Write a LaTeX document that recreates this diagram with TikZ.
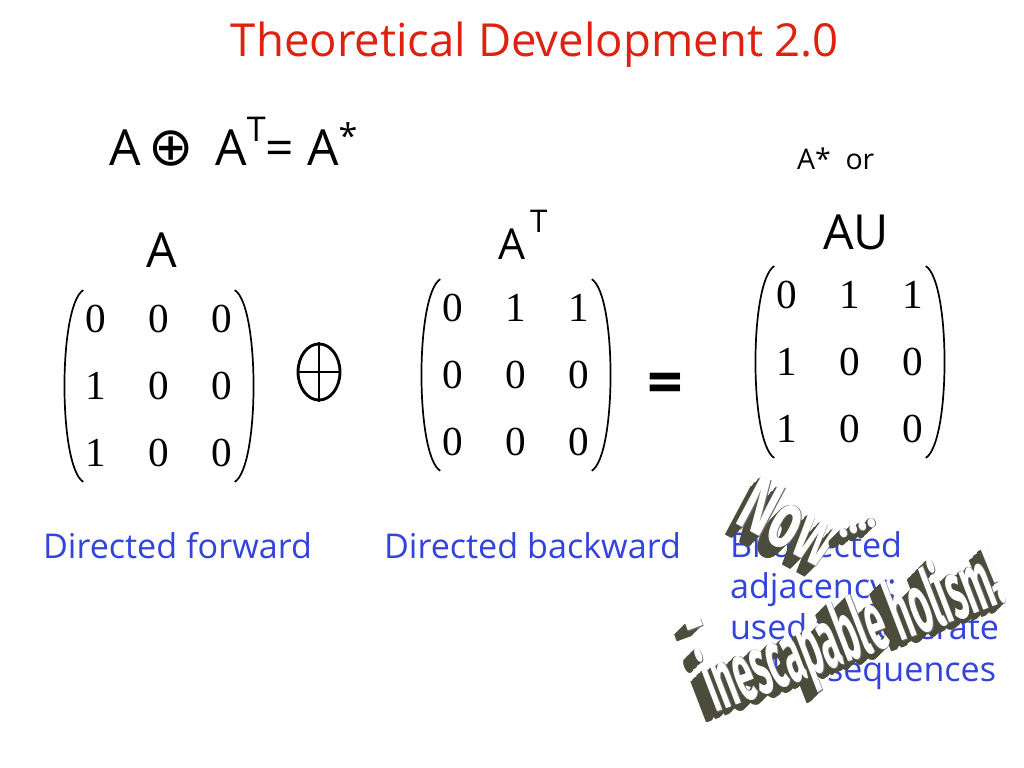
\documentclass[tikz,border=0pt]{standalone}
\usepackage{fontspec}
\setmainfont{Open Sans}
\newfontfamily\mtxfont{Liberation Serif}
\newfontfamily\glyphfont{DejaVu Sans}
\newfontfamily\artfont{Fira Sans}
\usetikzlibrary{matrix,calc,shapes.geometric}
\definecolor{titlered}{RGB}{221,34,17}
\definecolor{dirblue}{RGB}{51,68,221}
\definecolor{artgrey}{RGB}{76,76,60}
\tikzset{
    %Define style for the slide texts
    title/.style={
           font=\fontsize{32}{38}\selectfont,
           text=titlered,
           anchor=base},
    sym/.style={
           font=\fontsize{34}{40}\selectfont,
           anchor=base west},
    note/.style={
           font=\fontsize{24}{29}\selectfont,
           text=dirblue,
           align=left,
           anchor=base west},
    % Define style for the matrices
    mtx/.style={
           matrix of nodes,
           inner sep=0pt,
           nodes={font=\mtxfont\fontsize{29}{29}\selectfont,
                  minimum width=44.3pt,
                  minimum height=47.1pt,
                  inner sep=0pt}},
    paren/.style={
           line width=1.2pt},
    % Define style for the word art
    artside/.style={
           font=\artfont\bfseries,
           text=artgrey,
           inner sep=0pt},
    artedge/.style={
           font=\artfont\bfseries,
           text=black!55,
           inner sep=0pt},
    artface/.style={
           font=\artfont\bfseries,
           text=white,
           inner sep=0pt}
}
% round brackets beside a matrix node
\newcommand\parens[1]{
  \draw[paren] ($(#1.north west)+(19,5)$) .. controls ($(#1.west)+(-6,-80)$)
     and ($(#1.west)+(-6,80)$) .. ($(#1.south west)+(19,-5)$);
  \draw[paren] ($(#1.north east)+(-19,5)$) .. controls ($(#1.east)+(6,-80)$)
     and ($(#1.east)+(6,80)$) .. ($(#1.south east)+(-19,-5)$);
}
% extruded word art text: position, angle, size, text
\newcommand\artword[4]{
  \foreach \k in {14,...,1}
    \node[artside,rotate=#2,#3] at ($#1+(-0.8*\k,0.8*\k)$) {#4};
  \node[artedge,rotate=#2,#3] at ($#1+(0.7,0.7)$) {#4};
  \node[artface,rotate=#2,#3] at #1 {#4};
}

\begin{document}
\begin{tikzpicture}[x=0.703125pt, y=-0.703125pt]
  \fill[white] (0,0) rectangle (1024,768);
  \useasboundingbox (0,0) rectangle (1024,768);

  \node[title] (title) at (535,57) {Theoretical Development 2.0};

  % the sum written out
  \node[sym,font=\fontsize{35}{40}\selectfont] (sum) at (104,166) {A\,{\glyphfont\fontsize{38}{38}\selectfont ⊕}\, A\raisebox{17pt}{\fontsize{24}{24}\selectfont T}= A\raisebox{12pt}{\fontsize{24}{24}\selectfont *}};
  \node[sym,font=\fontsize{20}{22}\selectfont] (orlabel) at (792,170) {A*\ \ or};

  % matrix labels
  \node[sym,anchor=base] (labA) at (162,268) {A};
  \node[sym,font=\fontsize{30}{34}\selectfont] (labAT) at (493,260) {A\raisebox{19pt}{\fontsize{22}{22}\selectfont\,T}};
  \node[sym] (labAU) at (818,250) {AU};

  % the three matrices
  \matrix (mA) [mtx] at (159,386) {
    0 & 0 & 0 \\
    1 & 0 & 0 \\
    1 & 0 & 0 \\
  };
  \parens{mA}
  \matrix (mAT) [mtx] at (516,375) {
    0 & 1 & 1 \\
    0 & 0 & 0 \\
    0 & 0 & 0 \\
  };
  \parens{mAT}
  \matrix (mAU) [mtx] at (850,362) {
    0 & 1 & 1 \\
    1 & 0 & 0 \\
    1 & 0 & 0 \\
  };
  \parens{mAU}

  % operators between them
  \node[draw, ellipse, line width=2pt, minimum width=29.5pt, minimum height=39.5pt, inner sep=0pt] (bigplus) at (319,372) {};
  \draw[line width=2pt] (bigplus.north) -- (bigplus.south);
  \draw[line width=2pt] (bigplus.west) -- (bigplus.east);
  \node[font=\fontsize{44}{44}\selectfont\bfseries, anchor=base] (equals) at (665,404) {=};

  % descriptions
  \node[note] (fwd) at (38,558) {Directed forward};
  \node[note] (bwd) at (379,558) {Directed backward};
  \node[note] (bidir) at (725,681) {Bi-directed\\adjacency:\\used to generate\\utility sequences};

  % word art on top
  \artword{(790,522)}{-28}{font=\artfont\bfseries\fontsize{56}{56}\selectfont,xscale=0.62}{Now}
  \artword{(858,528)}{20}{font=\artfont\bfseries\fontsize{36}{36}\selectfont,xscale=0.8}{....}
  \artword{(697,632)}{20}{font=\artfont\bfseries\fontsize{44}{44}\selectfont,xscale=0.8}{-}
  \artword{(853,634)}{21}{font=\artfont\bfseries\fontsize{58}{58}\selectfont,xscale=0.42}{inescapable holism!}
\end{tikzpicture}
\end{document}
